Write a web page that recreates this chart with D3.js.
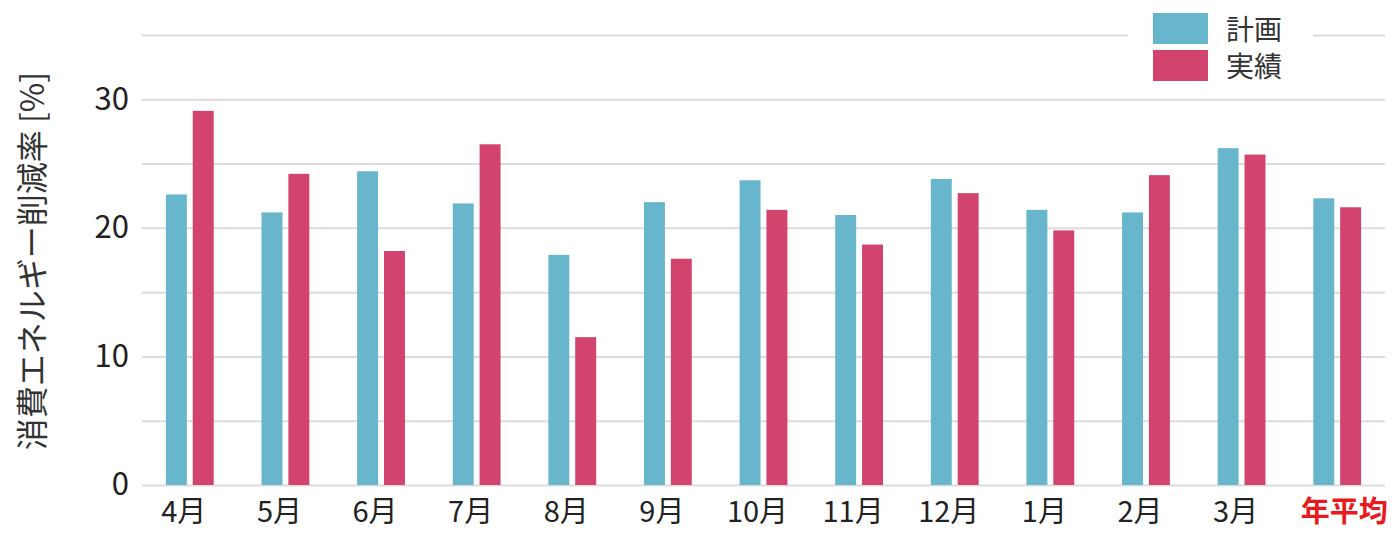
<!DOCTYPE html>
<html lang="ja">
<head>
<meta charset="utf-8">
<script src="https://cdn.jsdelivr.net/npm/d3@7"></script>
<style>
  html, body { margin: 0; padding: 0; background: #fff; }
  svg { display: block; font-family: "Noto Sans CJK JP", "Noto Sans", sans-serif; }
</style>
</head>
<body>
<svg id="chart" width="1397" height="533"></svg>
<script>
// 月別の消費エネルギー削減率（計画・実績）
const categories = ["4月", "5月", "6月", "7月", "8月", "9月", "10月", "11月", "12月", "1月", "2月", "3月", "年平均"];
const planValues   = [22.6, 21.2, 24.4, 21.9, 17.9, 22.0, 23.7, 21.0, 23.8, 21.4, 21.2, 26.2, 22.3];
const actualValues = [29.1, 24.2, 18.2, 26.5, 11.5, 17.6, 21.4, 18.7, 22.7, 19.8, 24.1, 25.7, 21.6];
const seriesNames  = ["計画", "実績"];
const yTickLabels  = [0, 10, 20, 30];
const yGridValues  = [0, 5, 10, 15, 20, 25, 30, 35];
const yTitle = "消費エネルギー削減率 [%]";
const averageLabel = "年平均";

const colors = { "計画": "#68b6cc", "実績": "#d2436e" };

const svg = d3.select("#chart");
const margin = { left: 142, right: 12, top: 35, bottom: 48 };
const W = 1397, H = 533;
const plotL = margin.left, plotR = W - margin.right;
const plotT = margin.top, plotB = H - margin.bottom;

const rows = categories.map((c, i) => ({ cat: c, "計画": planValues[i], "実績": actualValues[i] }));

const x0 = d3.scaleBand().domain(categories).range([plotL, plotR]).paddingInner(0.5).paddingOuter(0.25);
const x1 = d3.scaleBand().domain(seriesNames).range([0, x0.bandwidth()]).paddingInner(0.22);
const y = d3.scaleLinear().domain([0, 35]).range([plotB, plotT]);

// grid lines
const grid = svg.append("g")
  .attr("transform", `translate(${plotL},0)`)
  .call(d3.axisLeft(y).tickValues(yGridValues).tickSize(-(plotR - plotL)).tickFormat(""));
grid.select(".domain").remove();
grid.selectAll(".tick line").attr("stroke", "#dcdcdc").attr("stroke-width", 2);

// y tick labels
const yAxis = svg.append("g")
  .attr("transform", `translate(${plotL - 13},0)`)
  .call(d3.axisLeft(y).tickValues(yTickLabels).tickSize(0).tickPadding(0));
yAxis.select(".domain").remove();
yAxis.selectAll("text")
  .attr("font-size", 31)
  .attr("fill", "#222")
  .attr("font-family", "'Noto Sans CJK JP', sans-serif");

// y axis title
svg.append("text")
  .attr("transform", `translate(30,${(plotT + plotB) / 2 + 1}) rotate(-90)`)
  .attr("text-anchor", "middle")
  .attr("dominant-baseline", "central")
  .attr("font-size", 32)
  .attr("fill", "#333")
  .text(yTitle);

// bars
const groups = svg.append("g").selectAll("g")
  .data(rows)
  .join("g")
  .attr("transform", d => `translate(${x0(d.cat)},0)`);

groups.selectAll("rect")
  .data(d => seriesNames.map(k => ({ key: k, value: d[k] })))
  .join("rect")
  .attr("x", d => x1(d.key))
  .attr("width", x1.bandwidth())
  .attr("y", d => y(d.value))
  .attr("height", d => y(0) - y(d.value))
  .attr("fill", d => colors[d.key]);

// x axis labels
const xAxis = svg.append("g")
  .attr("transform", `translate(0,${plotB})`)
  .call(d3.axisBottom(x0).tickSize(0).tickPadding(0));
xAxis.select(".domain").remove();
xAxis.selectAll("text")
  .attr("font-size", 29)
  .attr("dy", null)
  .attr("y", 37)
  .attr("x", d => d === averageLabel ? 7 : -6)
  .attr("font-family", "'Noto Sans CJK JP', sans-serif")
  .attr("fill", d => d === averageLabel ? "#e8191f" : "#222")
  .attr("font-weight", d => d === averageLabel ? "bold" : null);

// legend
const legend = svg.append("g");
legend.append("rect")
  .attr("x", 1128).attr("y", 4).attr("width", 185).attr("height", 86)
  .attr("fill", "#fff");
const items = legend.selectAll("g.item")
  .data(seriesNames)
  .join("g")
  .attr("class", "item")
  .attr("transform", (d, i) => `translate(1153,${13 + i * 37})`);
items.append("rect")
  .attr("width", 55).attr("height", 31)
  .attr("fill", d => colors[d]);
items.append("text")
  .attr("x", 73).attr("y", 15)
  .attr("dominant-baseline", "central")
  .attr("font-size", 28)
  .attr("fill", "#333")
  .text(d => d);
</script>
</body>
</html>
